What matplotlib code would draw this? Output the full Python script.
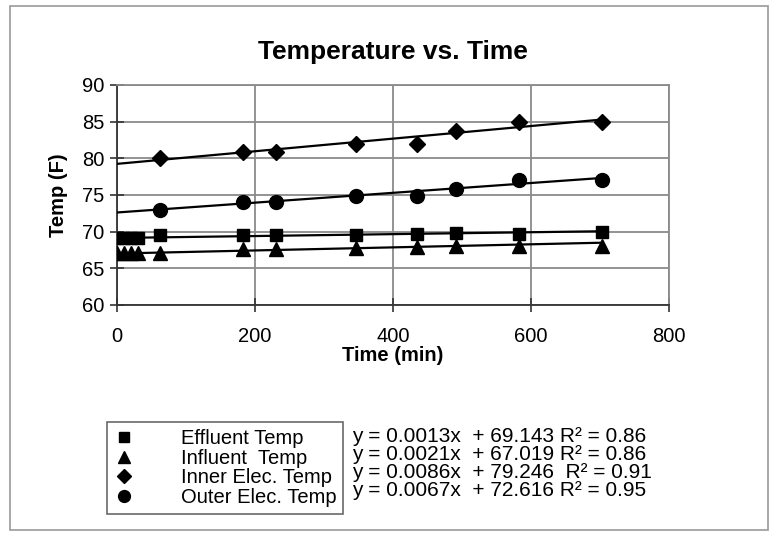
import matplotlib
matplotlib.use("Agg")
import matplotlib.pyplot as plt
import numpy as np

plt.rcParams['font.family'] = ['Liberation Sans', 'DejaVu Sans']

# ---- data ----
time_min = [0, 10, 20, 30, 62, 183, 230, 346, 435, 492, 583, 703]
effluent = [69.1, 69.1, 69.1, 69.1, 69.5, 69.6, 69.6, 69.6, 69.7, 69.8, 69.7, 70.0]
influent = [67.1, 67.1, 67.1, 67.1, 67.1, 67.7, 67.7, 67.8, 67.9, 68.0, 68.1, 68.0]
inner_t = [79.3, 79.3, 79.3, 79.3, 80.0, 80.8, 80.9, 81.9, 82.0, 83.7, 85.0, 85.0]
outer_t = [72.6, 72.6, 72.6, 72.6, 73.0, 74.1, 74.1, 74.9, 74.9, 75.8, 77.0, 77.0]

series_names = ["Effluent Temp", "Influent  Temp", "Inner Elec. Temp", "Outer Elec. Temp"]
slopes = [0.0013, 0.0021, 0.0086, 0.0067]
intercepts = [69.143, 67.019, 79.246, 72.616]
equations = ["y = 0.0013x  + 69.143 R\u00b2 = 0.86",
             "y = 0.0021x  + 67.019 R\u00b2 = 0.86",
             "y = 0.0086x  + 79.246  R\u00b2 = 0.91",
             "y = 0.0067x  + 72.616 R\u00b2 = 0.95"]
x_ticks = [0, 200, 400, 600, 800]
y_ticks = [60, 65, 70, 75, 80, 85, 90]

# the cluster near t=0 only exists for effluent/influent in the picture
inner_x = time_min[4:]
inner_y = inner_t[4:]
outer_x = time_min[4:]
outer_y = outer_t[4:]

fig = plt.figure(figsize=(7.69, 5.37), dpi=100)
ax = fig.add_axes([117/769, 1-305/537, (669-117)/769, (305-85)/537])

markers = ['s', '^', 'D', 'o']
msizes = [9, 9.5, 8, 10]
xs = [time_min, time_min, inner_x, outer_x]
ys = [effluent, influent, inner_y, outer_y]
handles = []
for i in range(4):
    h, = ax.plot(xs[i], ys[i], linestyle='none', marker=markers[i],
                 markersize=msizes[i], color='black', zorder=4, label=series_names[i])
    handles.append(h)
    xl = np.array([0, max(xs[i])])
    ax.plot(xl, slopes[i]*xl + intercepts[i], color='black', lw=1.6, zorder=3)

ax.set_xlim(0, 800)
ax.set_ylim(60, 90)
ax.set_xticks(x_ticks)
ax.set_yticks(y_ticks)
ax.grid(True, color='#8a8a8a', lw=1.3, zorder=1)
ax.set_axisbelow(True)
for s in ['top', 'right']:
    ax.spines[s].set_color('#8a8a8a')
    ax.spines[s].set_linewidth(1.3)
for s in ['left', 'bottom']:
    ax.spines[s].set_color('#333333')
    ax.spines[s].set_linewidth(1.3)
ax.tick_params(direction='inout', length=10, width=1.2, color='#333333',
               labelsize=14.5, pad=4)
ax.tick_params(axis='x', pad=11)

ax.set_title("Temperature vs. Time", fontsize=19, fontweight='bold', pad=19)
ax.set_xlabel("Time (min)", fontsize=14.5, fontweight='bold', labelpad=0)
ax.set_ylabel("Temp (F)", fontsize=14.5, fontweight='bold', labelpad=10)

leg = fig.legend(handles=handles, labels=series_names,
                 loc='upper left', bbox_to_anchor=(107/769, 1-422/537),
                 fontsize=14.5, frameon=True, fancybox=False, edgecolor='#444444',
                 handlelength=1.0, handletextpad=2.3, labelspacing=0.03,
                 borderpad=0.35, borderaxespad=0, markerscale=0.85)
leg.get_frame().set_linewidth(1.2)

for k, eq in enumerate(equations):
    fig.text(352/769, 1-(437 + k*17.7)/537, eq, fontsize=15, va='center', ha='left')

# outer chart border
fig.patches.append(plt.Rectangle((10/769, 1-530/537), (768-10)/769, (530-6)/537,
                                 transform=fig.transFigure, fill=False,
                                 edgecolor='#999999', lw=1.2))

fig.savefig("out.png", dpi=100)
